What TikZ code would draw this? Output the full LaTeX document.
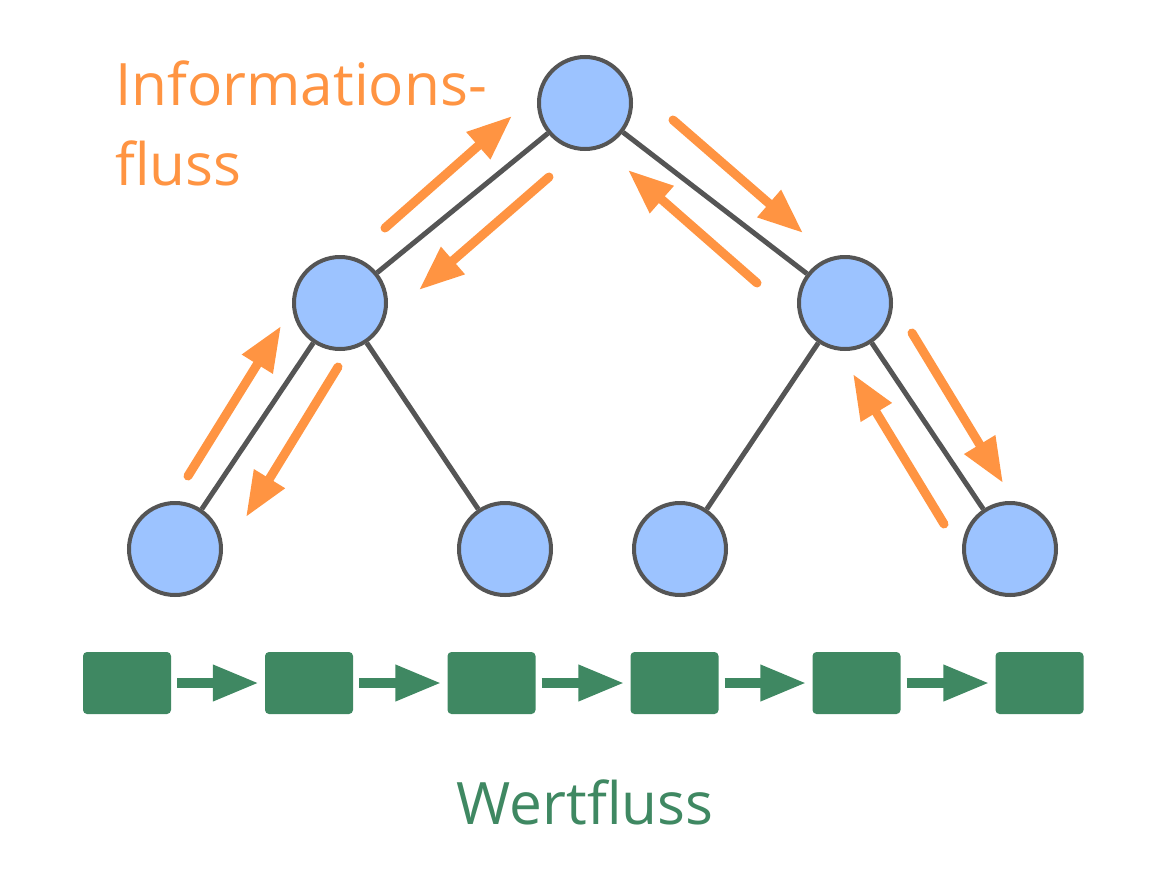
\documentclass[tikz,border=0pt]{standalone}
\usepackage{fontspec}
\setmainfont{Open Sans}
\usetikzlibrary{arrows.meta}
\definecolor{orangeA}{HTML}{FF9442}
\definecolor{blueA}{HTML}{9CC3FF}
\definecolor{grayA}{HTML}{555555}
\definecolor{greenA}{HTML}{3F8862}
\begin{document}
\begin{tikzpicture}[x=1pt,y=-1pt,
  treenode/.style={circle,draw=grayA,fill=blueA,line width=4pt,minimum size=92pt,inner sep=0pt},
  treeedge/.style={draw=grayA,line width=5pt},
  infoarrow/.style={draw=orangeA,line width=9pt,line cap=round,-{Triangle[length=45pt,width=34pt]}},
  valbox/.style={rectangle,rounded corners=4pt,fill=greenA,minimum width=88pt,minimum height=62pt,inner sep=0pt},
  valarrow/.style={draw=greenA,line width=10pt,shorten <=6pt,shorten >=6pt,-{Triangle[length=46pt,width=34pt]}},
  labeltext/.style={inner sep=0pt,font=\fontsize{58.5pt}{80pt}\selectfont}
]
\useasboundingbox (0,0) rectangle (1166,894);
% tree
\node[treenode] (r) at (585,103) {};
\node[treenode] (ml) at (340,303) {};
\node[treenode] (mr) at (845,303) {};
\node[treenode] (l1) at (175,549) {};
\node[treenode] (l2) at (505,549) {};
\node[treenode] (l3) at (680,549) {};
\node[treenode] (l4) at (1010,549) {};
\draw[treeedge] (r) -- (ml);
\draw[treeedge] (r) -- (mr);
\draw[treeedge] (ml) -- (l1);
\draw[treeedge] (ml) -- (l2);
\draw[treeedge] (mr) -- (l3);
\draw[treeedge] (mr) -- (l4);
% information flow arrows
\coordinate (a1s) at (385,228); \coordinate (a1e) at (512,116);
\coordinate (a2s) at (549,177); \coordinate (a2e) at (419,290);
\coordinate (a3s) at (673,120); \coordinate (a3e) at (803,233);
\coordinate (a4s) at (757,283); \coordinate (a4e) at (628,170);
\coordinate (a5s) at (188,476); \coordinate (a5e) at (281,326);
\coordinate (a6s) at (338,367); \coordinate (a6e) at (246,517);
\coordinate (a7s) at (912,333); \coordinate (a7e) at (1003,483);
\coordinate (a8s) at (944,524); \coordinate (a8e) at (853,374);
\draw[infoarrow] (a1s) -- (a1e);
\draw[infoarrow] (a2s) -- (a2e);
\draw[infoarrow] (a3s) -- (a3e);
\draw[infoarrow] (a4s) -- (a4e);
\draw[infoarrow] (a5s) -- (a5e);
\draw[infoarrow] (a6s) -- (a6e);
\draw[infoarrow] (a7s) -- (a7e);
\draw[infoarrow] (a8s) -- (a8e);
% value flow
\node[valbox] (b1) at (127,683) {};
\node[valbox] (b2) at (309,683) {};
\node[valbox] (b3) at (491.5,683) {};
\node[valbox] (b4) at (674.5,683) {};
\node[valbox] (b5) at (856.5,683) {};
\node[valbox] (b6) at (1039.5,683) {};
\draw[valarrow] (b1) -- (b2);
\draw[valarrow] (b2) -- (b3);
\draw[valarrow] (b3) -- (b4);
\draw[valarrow] (b4) -- (b5);
\draw[valarrow] (b5) -- (b6);
% labels
\node[labeltext,anchor=base west,text=orangeA,align=left] (info) at (115,185) {Informations-\\fluss};
\node[labeltext,anchor=base,text=greenA] (wert) at (585,824) {Wertfluss};
\end{tikzpicture}
\end{document}
